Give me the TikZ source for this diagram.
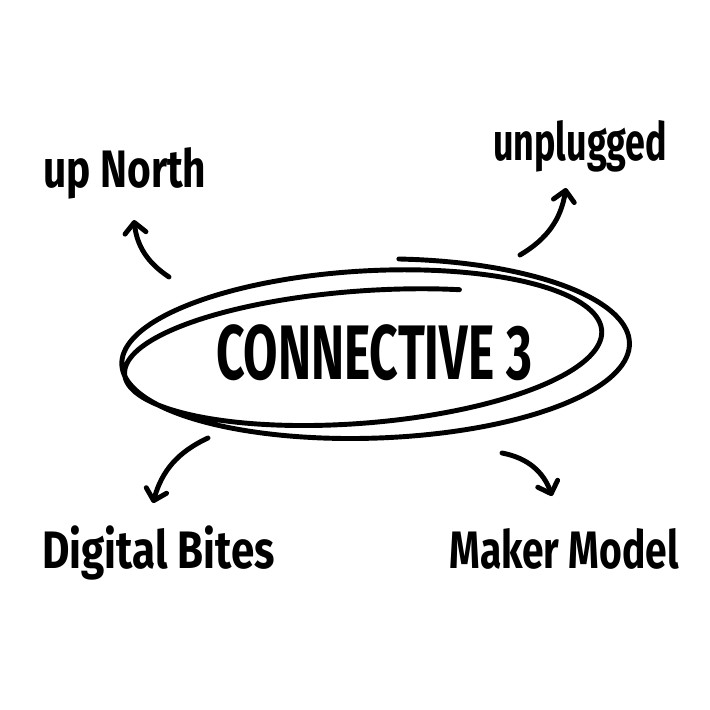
\documentclass[tikz,border=0pt]{standalone}
\usepackage{fontspec}
\setmainfont{Fira Sans}
\usetikzlibrary{arrows.meta}

\begin{document}
\begin{tikzpicture}[x=0.02cm,y=-0.02cm,>={Straight Barb[length=6pt,width=12pt,round]},
  declare function={
    lu(\t)=(\t-275)/745;
    lrx(\t)=258-30*lu(\t);
    lry(\t)=93-27*lu(\t)-12*lu(\t)^8;
    lcx(\t)=378-26*lu(\t);
    lcy(\t)=352-2*lu(\t);
    lph(\t)=-1-6*lu(\t);
    lx(\t)=lcx(\t)+lrx(\t)*cos(\t)*cos(lph(\t))-lry(\t)*sin(\t)*sin(lph(\t));
    ly(\t)=lcy(\t)+lrx(\t)*cos(\t)*sin(lph(\t))+lry(\t)*sin(\t)*cos(lph(\t));
  }]
\tikzstyle{every node}=[inner sep=0pt];
\tikzstyle{lbl}=[anchor=base west,font=\fontsize{30}{34}\selectfont\bfseries];
\tikzstyle{pen}=[line width=2.8pt,line cap=round,line join=round];
\useasboundingbox (0,0) rectangle (710,710);
% texts
  \node (hub) at (374,353) {\fontsize{44}{50}\selectfont\bfseries\scalebox{0.645}[1]{CONNECTIVE 3}};
  \node[lbl] (north) at (43,187) {\scalebox{0.77}[1]{up North}};
  \node[lbl] (unpl) at (493,160) {\scalebox{0.68}[1]{unplugged}};
  \node[lbl] (digi) at (42,568) {\scalebox{0.8}[1]{Digital Bites}};
  \node[lbl] (make) at (449,568) {\scalebox{0.74}[1]{Maker Model}};
% loop round the hub
  \draw[pen] plot[domain=275:1020,samples=160,smooth,variable=\t] ({lx(\t)},{ly(\t)});
% arrow ends
  \coordinate (n1) at (169,277); \coordinate (n2) at (134,220);
  \coordinate (u1) at (520,255); \coordinate (u2) at (566,188);
  \coordinate (d1) at (208,438); \coordinate (d2) at (153,503);
  \coordinate (m1) at (502,453); \coordinate (m2) at (552,496);
% arrows
  \draw[pen,->] (n1) to[bend left=25] (n2);
  \draw[pen,->] (u1) to[bend right=25] (u2);
  \draw[pen,->] (d1) to[bend right=25] (d2);
  \draw[pen,->] (m1) to[bend left=30] (m2);
\end{tikzpicture}
\end{document}
